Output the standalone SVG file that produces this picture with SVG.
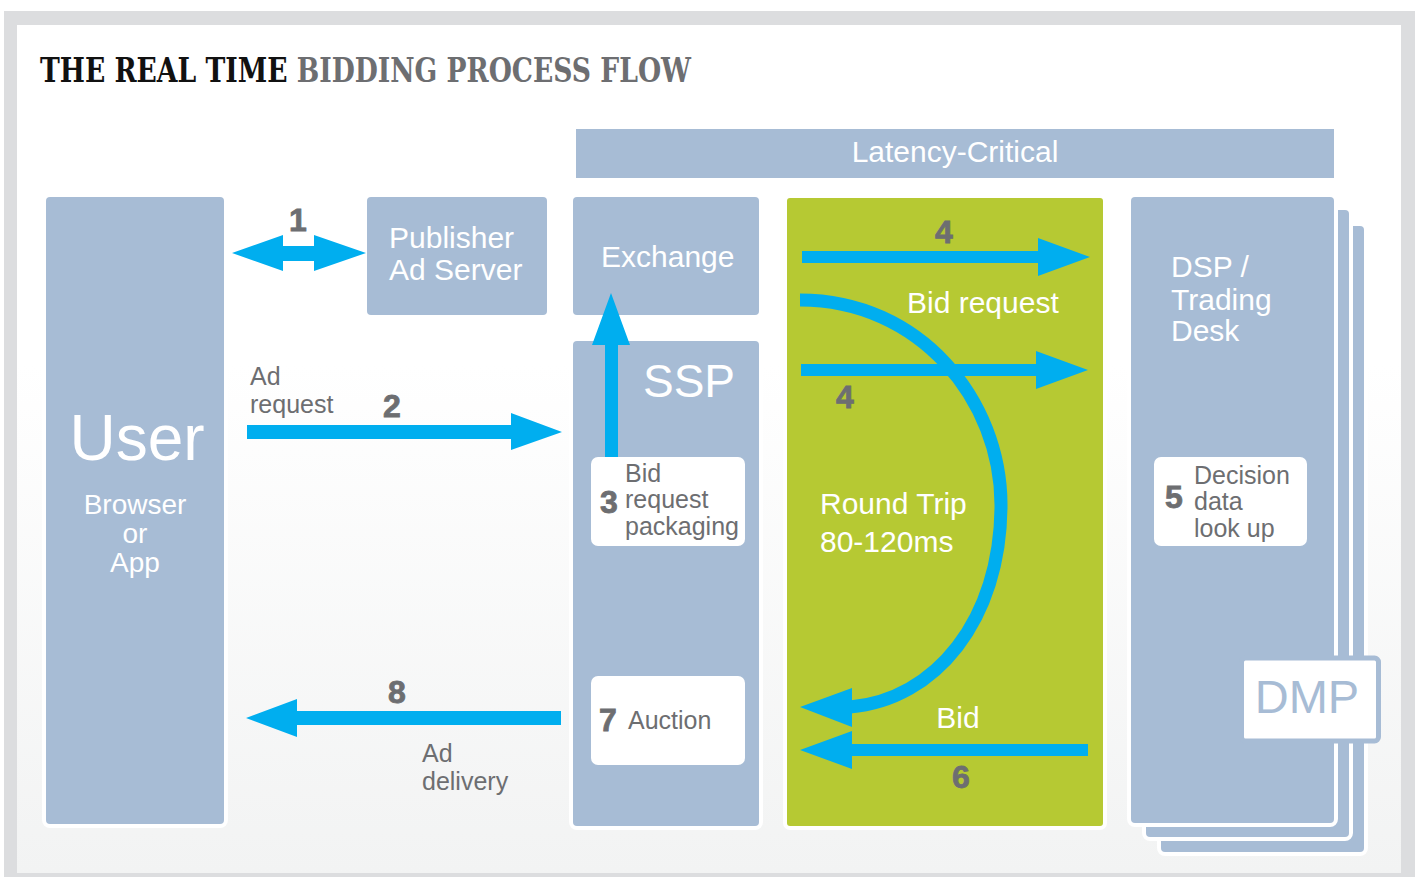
<svg xmlns="http://www.w3.org/2000/svg" width="1415" height="877" viewBox="0 0 1415 877">
  <defs>
    <linearGradient id="panelFill" x1="0" y1="0" x2="0" y2="1">
      <stop offset="0" stop-color="#ffffff"/>
      <stop offset="0.4" stop-color="#ffffff"/>
      <stop offset="1" stop-color="#f2f3f3"/>
    </linearGradient>
    <style>
      .box { fill: #a7bcd5; stroke: #ffffff; stroke-width: 8; paint-order: stroke; }
      .card { fill: #ffffff; }
      .green { fill: #b6c933; stroke: #ffffff; stroke-width: 8; paint-order: stroke; }
      .arrow { fill: #00aeef; }
      .curve { fill: none; stroke: #00aeef; stroke-width: 13; }
      .lbl { font-family: "Liberation Sans", Arial, sans-serif; fill: #ffffff; font-size: 30px; }
      .grey { font-family: "Liberation Sans", Arial, sans-serif; fill: #6d6e71; font-size: 25px; }
      .num { font-family: "Liberation Sans", Arial, sans-serif; font-weight: bold; fill: #6d6e71; font-size: 32px; stroke: #6d6e71; stroke-width: 0.8; }
      .title { font-family: "DejaVu Serif Condensed", "DejaVu Serif", serif; font-weight: bold; font-size: 34px; }
    </style>
  </defs>

  <!-- frame and panel -->
  <rect x="4" y="11" width="1411" height="866" fill="#dcdddf"/>
  <rect x="17" y="25" width="1384" height="848" fill="url(#panelFill)"/>

  <!-- heading, squeezed horizontally -->
  <text class="title" transform="translate(40,82) scale(0.87,1)" x="0" y="0" fill="#111111">THE REAL TIME <tspan fill="#6d6e71">BIDDING PROCESS FLOW</tspan></text>

  <!-- latency band -->
  <g id="latency">
    <rect x="576" y="129" width="758" height="49" fill="#a7bcd5"/>
    <text class="lbl" x="955" y="162" text-anchor="middle">Latency-Critical</text>
  </g>

  <g id="user">
    <rect class="box" x="46" y="197" width="178" height="627" rx="4"/>
    <text class="lbl" x="137" y="460" text-anchor="middle" style="font-size:64px">User</text>
    <text class="lbl" x="135" y="514" text-anchor="middle" style="font-size:28px">Browser</text>
    <text class="lbl" x="135" y="543" text-anchor="middle" style="font-size:28px">or</text>
    <text class="lbl" x="135" y="572" text-anchor="middle" style="font-size:28px">App</text>
  </g>

  <g id="publisher">
    <rect class="box" x="367" y="197" width="180" height="118" rx="4"/>
    <text class="lbl" x="389" y="248">Publisher</text>
    <text class="lbl" x="389" y="280">Ad Server</text>
  </g>

  <g id="exchange">
    <rect class="box" x="573" y="197" width="186" height="118" rx="4"/>
    <text class="lbl" x="601" y="267">Exchange</text>
  </g>

  <g id="ssp">
    <rect class="box" x="573" y="341" width="186" height="485" rx="4"/>
    <text class="lbl" x="643" y="397" style="font-size:46px">SSP</text>
  </g>

  <g id="packaging">
    <rect class="card" x="591" y="457" width="154" height="89" rx="7"/>
    <text class="num" x="600" y="513">3</text>
    <text class="grey" x="625" y="482">Bid</text>
    <text class="grey" x="625" y="508">request</text>
    <text class="grey" x="625" y="535">packaging</text>
  </g>

  <g id="auction">
    <rect class="card" x="591" y="676" width="154" height="89" rx="7"/>
    <text class="num" x="599" y="731">7</text>
    <text class="grey" x="628" y="729">Auction</text>
  </g>

  <g id="roundtrip">
    <rect class="green" x="787" y="198" width="316" height="628" rx="3"/>
    <text class="lbl" x="907" y="313">Bid request</text>
    <text class="lbl" x="820" y="514">Round Trip</text>
    <text class="lbl" x="820" y="552">80-120ms</text>
    <text class="lbl" x="958" y="728" text-anchor="middle">Bid</text>
  </g>

  <g id="dsp">
    <rect class="box" x="1161" y="226" width="203" height="626" rx="4"/>
    <rect class="box" x="1146" y="210" width="203" height="627" rx="4"/>
    <rect class="box" x="1131" y="197" width="203" height="626" rx="4"/>
    <text class="lbl" x="1171" y="277">DSP /</text>
    <text class="lbl" x="1171" y="310">Trading</text>
    <text class="lbl" x="1171" y="341">Desk</text>
  </g>

  <g id="lookup">
    <rect class="card" x="1154" y="457" width="153" height="89" rx="7"/>
    <text class="num" x="1165" y="508">5</text>
    <text class="grey" x="1194" y="484">Decision</text>
    <text class="grey" x="1194" y="510">data</text>
    <text class="grey" x="1194" y="537">look up</text>
  </g>

  <g id="dmp">
    <rect x="1241.5" y="658" width="137" height="83" rx="4" fill="#ffffff" stroke="#a7bcd5" stroke-width="5"/>
    <text x="1307" y="713" text-anchor="middle" font-family="'Liberation Sans', Arial, sans-serif" font-size="47" fill="#a7bcd5">DMP</text>
  </g>

  <g id="connectors">
    <!-- 1: user <-> publisher ad server -->
    <polygon class="arrow" points="232,253 283,235 283,246 314,246 314,235 366,253 314,271 314,261 283,261 283,271"/>
    <!-- 2: ad request -->
    <polygon class="arrow" points="247,425 511,425 511,413 562,432 511,450 511,439 247,439"/>
    <!-- 3: ssp up to exchange -->
    <polygon class="arrow" points="605,457 605,345 592,345 611,293 630,345 618,345 618,457"/>
    <!-- 4: bid requests out -->
    <polygon class="arrow" points="802,251 1038,251 1038,238 1090,257 1038,276 1038,263 802,263"/>
    <polygon class="arrow" points="801,364 1036,364 1036,351 1088,370 1036,389 1036,376 801,376"/>
    <!-- round trip -->
    <path class="curve" d="M 800 300 C 920 300 1001 400 1001 505 C 1001 620 935 700 850 707"/>
    <polygon class="arrow" points="800,707 852,688 852,727"/>
    <!-- 6: bid back -->
    <polygon class="arrow" points="1088,744 852,744 852,731 800,750 852,769 852,756 1088,756"/>
    <!-- 8: ad delivery -->
    <polygon class="arrow" points="561,711 297,711 297,699 246,718 297,737 297,725 561,725"/>
  </g>

  <!-- step numbers and connector labels -->
  <g id="connector-labels">
    <text class="num" x="298" y="231" text-anchor="middle">1</text>
    <text class="grey" x="250" y="385">Ad</text>
    <text class="grey" x="250" y="413">request</text>
    <text class="num" x="392" y="417" text-anchor="middle">2</text>
    <text class="num" x="944" y="243" text-anchor="middle">4</text>
    <text class="num" x="845" y="408" text-anchor="middle">4</text>
    <text class="num" x="961" y="788" text-anchor="middle">6</text>
    <text class="num" x="397" y="703" text-anchor="middle">8</text>
    <text class="grey" x="422" y="762">Ad</text>
    <text class="grey" x="422" y="790">delivery</text>
  </g>
</svg>
